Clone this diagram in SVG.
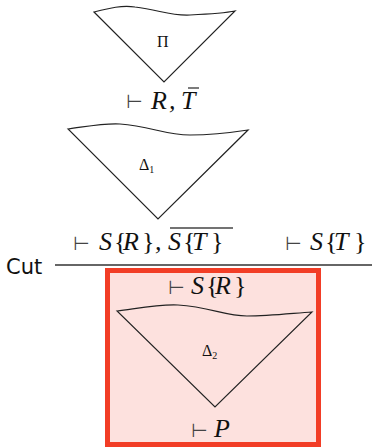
<svg xmlns="http://www.w3.org/2000/svg" width="376" height="448" viewBox="0 0 376 448">
<style>
.tri{fill:none;stroke:#222;stroke-width:1.2;stroke-linejoin:miter}
.m{font-family:"Liberation Serif","DejaVu Serif",serif;font-style:italic;font-size:26px;fill:#111}
.b{font-style:normal}
.ts{font-family:"DejaVu Sans","Liberation Sans",sans-serif;font-style:normal;font-size:19px;fill:#444}
.lbl{font-family:"Liberation Serif","DejaVu Serif",serif;font-size:16px;fill:#111}
.sub{font-size:10px}
.bar{stroke:#444;stroke-width:1.4}
</style>
<rect x="0" y="0" width="376" height="448" fill="#fff"/>
<g id="box">
<rect x="107.5" y="270.5" width="211" height="174" fill="#fde1de" stroke="#f23d26" stroke-width="5"/>
</g>
<g id="pi">
<path class="tri" d="M94,12 C110,8 122,5 135,7 C160,10 170,16 190,15 C210,14 225,13 235,11 L164,82 Z"/>
<text class="lbl" x="157" y="47" font-size="14">Π</text>
</g>
<g id="rt">
<text class="ts" x="126" y="108">⊢</text>
<text class="m" x="151 169 181" y="109">R,T</text>
<line class="bar" x1="188" y1="88" x2="199" y2="88"/>
</g>
<g id="delta1">
<path class="tri" d="M68,129 C90,126 105,123 120,124 C150,126 165,135 190,135 C215,135 235,132 248,130 L158,219 Z"/>
<text class="lbl" x="139" y="170">Δ<tspan class="sub" dy="3">1</tspan></text>
</g>
<g id="premise1">
<text class="ts" x="73" y="250">⊢</text>
<text class="m" y="250"><tspan x="99">S</tspan><tspan class="b" x="114">{</tspan><tspan x="123">R</tspan><tspan class="b" x="142">}</tspan><tspan x="155">,</tspan><tspan x="168">S</tspan><tspan class="b" x="183">{</tspan><tspan x="192">T</tspan><tspan class="b" x="211">}</tspan></text>
<line class="bar" x1="170" y1="228" x2="233" y2="228"/>
</g>
<g id="premise2">
<text class="ts" x="285" y="250">⊢</text>
<text class="m" y="250"><tspan x="310">S</tspan><tspan class="b" x="325">{</tspan><tspan x="334">T</tspan><tspan class="b" x="354">}</tspan></text>
</g>
<g id="cut">
<text x="6" y="274" font-family="'DejaVu Sans','Liberation Sans',sans-serif" font-size="21" fill="#111">Cut</text>
<line x1="55" y1="265" x2="372" y2="265" stroke="#333" stroke-width="1.3"/>
</g>
<g id="sr">
<text class="ts" x="168" y="294">⊢</text>
<text class="m" y="294"><tspan x="191">S</tspan><tspan class="b" x="206">{</tspan><tspan x="215">R</tspan><tspan class="b" x="234">}</tspan></text>
</g>
<g id="delta2">
<path class="tri" d="M117,311 C140,308 160,304 178,305 C210,307 225,316 247,316 C270,316 295,313 312,312 L215,407 Z"/>
<text class="lbl" x="202" y="356">Δ<tspan class="sub" dy="3">2</tspan></text>
</g>
<g id="p">
<text class="ts" x="191" y="437">⊢</text>
<text class="m" x="214" y="437">P</text>
</g>
</svg>
